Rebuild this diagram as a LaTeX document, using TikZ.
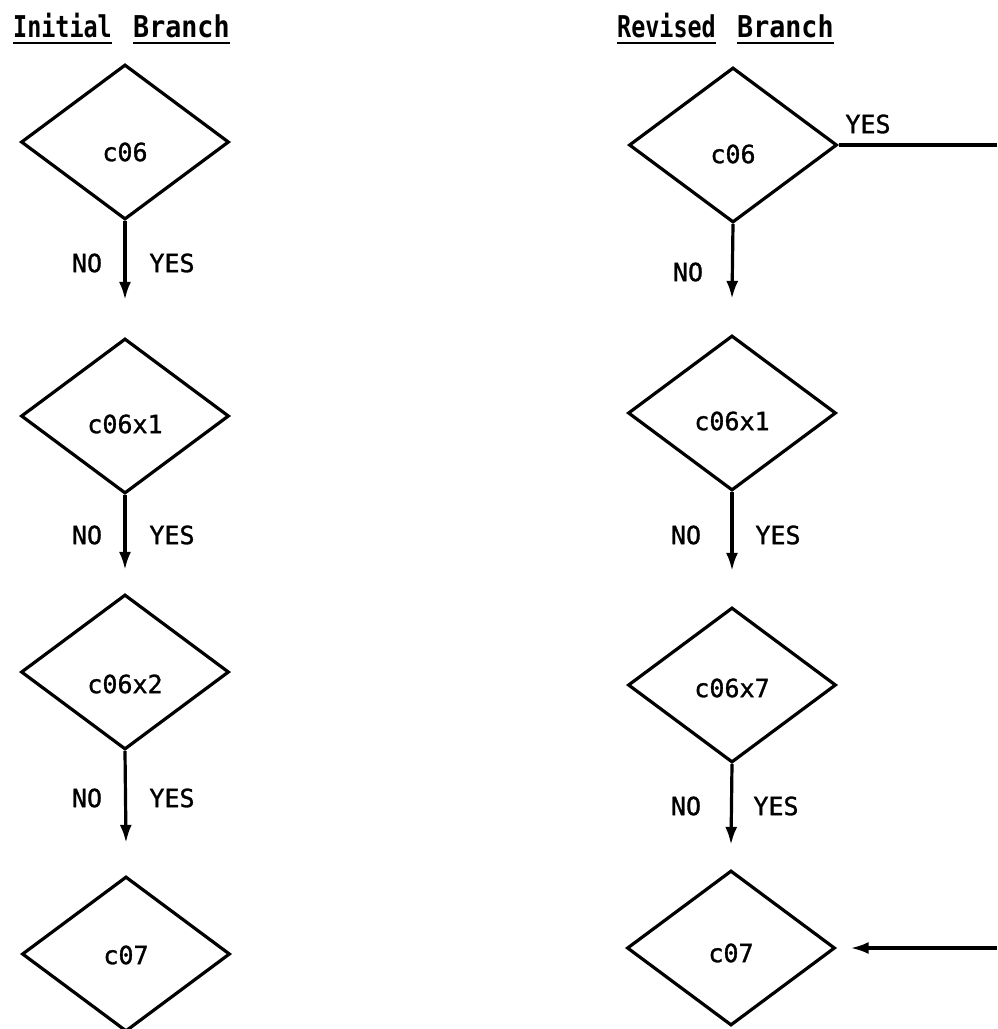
\documentclass[tikz,border=0pt]{standalone}
\usepackage{fontspec}
\setmonofont{DejaVu Sans Mono}
\newfontfamily\labfont{DejaVu Sans Mono}[FakeBold=1.2]
\usetikzlibrary{shapes.geometric,arrows.meta}

\begin{document}
\begin{tikzpicture}[x=1pt,y=-1pt,
  dec/.style={diamond, draw, line width=3.2pt, minimum width=208pt,
    minimum height=155pt, inner sep=0pt, line join=miter},
  flow/.style={line width=3.2pt, -{Latex[length=18pt,width=12pt]}},
  plain/.style={line width=3.2pt},
  tag/.style={font=\labfont\fontsize{25}{25}\selectfont, inner sep=0pt},
  head/.style={font=\ttfamily\bfseries\fontsize{30}{30}\selectfont,
    inner sep=0pt, anchor=base west},
  uline/.style={line width=2.8pt}]
\useasboundingbox (0,0) rectangle (997,1029);

% headings, each word underlined on its own
\node[head] (h1) at (13,37)  {\scalebox{0.78}[1]{Initial}};
\node[head] (h2) at (133,37) {\scalebox{0.89}[1]{Branch}};
\node[head] (h3) at (617,37) {\scalebox{0.78}[1]{Revised}};
\node[head] (h4) at (737,37) {\scalebox{0.89}[1]{Branch}};
\foreach \h in {h1,h2,h3,h4}
  \draw[uline] ([yshift=-6pt]\h.base west) -- ([yshift=-6pt]\h.base east);

% initial branch
\node[dec, label={[tag,yshift=-10pt,name=ti1]center:c06}]   (i1) at (125,142) {};
\node[dec, label={[tag,yshift=-8pt,name=ti2]center:c06x1}]  (i2) at (125,416) {};
\node[dec, label={[tag,yshift=-12pt,name=ti3]center:c06x2}] (i3) at (125,672) {};
\node[dec, label={[tag,yshift=-1pt,name=ti4]center:c07}]    (i4) at (126,954) {};

\draw[flow] (i1.south) -- ([yshift=37pt]i2.north);
\draw[flow] (i2.south) -- ([yshift=23pt]i3.north);
\draw[flow] (i3.south) -- ([yshift=32pt]i4.north);

\node[tag] (in1) at (87,263)  {NO};
\node[tag] (iy1) at (172,263) {YES};
\node[tag] (in2) at (87,535)  {NO};
\node[tag] (iy2) at (172,535) {YES};
\node[tag] (in3) at (87,798)  {NO};
\node[tag] (iy3) at (172,798) {YES};

% revised branch
\node[dec, label={[tag,yshift=-9pt,name=tr1]center:c06}]   (r1) at (733,145) {};
\node[dec, label={[tag,yshift=-8pt,name=tr2]center:c06x1}] (r2) at (732,413) {};
\node[dec, label={[tag,yshift=-3pt,name=tr3]center:c06x7}] (r3) at (732,685) {};
\node[dec, label={[tag,yshift=-5pt,name=tr4]center:c07}]   (r4) at (731,948) {};

\draw[flow] (r1.south) -- ([yshift=35pt]r2.north);
\draw[flow] (r2.south) -- ([yshift=35pt]r3.north);
\draw[flow] (r3.south) -- ([yshift=24pt]r4.north);

\node[tag] (rn1) at (688,272) {NO};
\node[tag] (rn2) at (686,535) {NO};
\node[tag] (ry2) at (778,535) {YES};
\node[tag] (rn3) at (686,806) {NO};
\node[tag] (ry3) at (776,806) {YES};

% jump from c06 straight to c07 along the right edge
\coordinate (eyes) at (997,145);
\coordinate (ein)  at (997,948);
\draw[plain] (r1.east) -- (eyes);
\node[tag] (ry1) at (868,124) {YES};
\draw[flow] (ein) -- ([xshift=14pt]r4.east);
\end{tikzpicture}
\end{document}
